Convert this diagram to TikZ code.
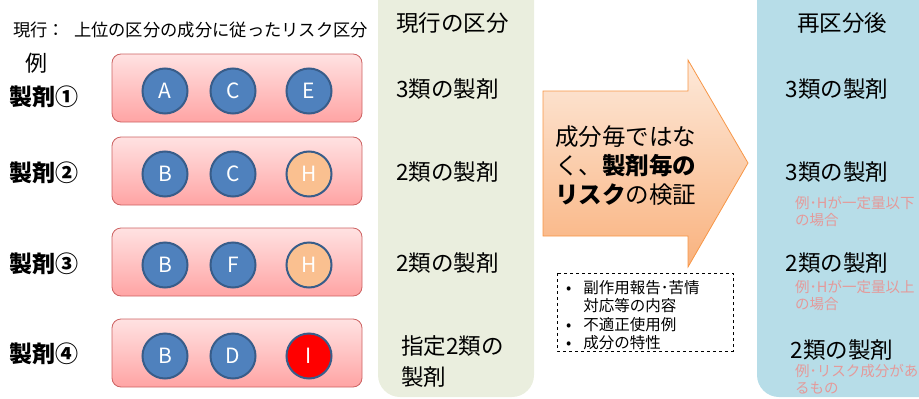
\documentclass[tikz,border=0pt]{standalone}
\usepackage{fontspec}
\setmainfont{Noto Sans CJK JP}
\usetikzlibrary{positioning}

\definecolor{pinktop}{HTML}{FFE2E2}
\definecolor{pinkbot}{HTML}{FFA4A4}
\definecolor{pinkline}{HTML}{CD6262}
\definecolor{compblue}{HTML}{4F81BD}
\definecolor{compline}{HTML}{385D8A}
\definecolor{comporange}{HTML}{FAC090}
\definecolor{greenpanel}{HTML}{EAEEDE}
\definecolor{bluepanel}{HTML}{B7DDE8}
\definecolor{arrowtop}{HTML}{FDE9DA}
\definecolor{arrowbot}{HTML}{F9B27E}
\definecolor{arrowline}{HTML}{F79646}
\definecolor{notered}{HTML}{E49A9A}

\begin{document}
\begin{tikzpicture}[x=1pt, y=-1pt,
  every node/.style={inner sep=0pt},
  drug/.style={draw=pinkline, line width=0.8pt, rounded corners=9pt,
    top color=pinktop, bottom color=pinkbot,
    minimum width=250pt, minimum height=68pt},
  comp/.style={circle, draw=compline, line width=2pt, fill=compblue,
    text=white, minimum size=45pt, font=\fontsize{21}{21}\selectfont},
  druglabel/.style={anchor=west, font=\fontsize{23}{26}\selectfont\bfseries},
  kind/.style={font=\fontsize{22.5}{31}\selectfont},
  note/.style={anchor=north west, align=left, text=notered,
    font=\fontsize{14.5}{17}\selectfont}
]
  \useasboundingbox (0,0) rectangle (919,399);
  \clip (0,0) rectangle (919,399);

  % panels
  \fill[greenpanel, rounded corners=22pt] (378,-40) rectangle (534,397);
  \fill[bluepanel, rounded corners=22pt] (757,-40) rectangle (960,397);

  % title
  \node[anchor=west, font=\fontsize{17.3}{20}\selectfont] (title) at (13,30)
    {現行：\hspace{9pt}上位の区分の成分に従ったリスク区分};
  \node[font=\fontsize{22}{24}\selectfont] (ex) at (36,63) {例};

  % products
  \node[druglabel] (lab1) at (9,97) {製剤①};
  \node[druglabel] (lab2) at (9,173) {製剤②};
  \node[druglabel] (lab3) at (9,264) {製剤③};
  \node[druglabel] (lab4) at (9,354) {製剤④};

  \node[drug] (box1) at (237,88) {};
  \node[drug] (box2) at (237,171) {};
  \node[drug] (box3) at (237,262) {};
  \node[drug] (box4) at (237,353) {};

  \node[comp] (a1) at (165,91) {A};
  \node[comp] (c1) at (233,91) {C};
  \node[comp] (e1) at (309,91) {E};

  \node[comp] (b2) at (165,174) {B};
  \node[comp] (c2) at (233,174) {C};
  \node[comp, fill=comporange] (h2) at (309,174) {H};

  \node[comp] (b3) at (165,265) {B};
  \node[comp] (f3) at (233,265) {F};
  \node[comp, fill=comporange] (h3) at (309,265) {H};

  \node[comp] (b4) at (165,356) {B};
  \node[comp] (d4) at (233,356) {D};
  \node[comp, fill=red] (i4) at (309,356) {I};

  % current class
  \node[kind, anchor=west] (cur) at (396,23) {現行の区分};
  \node[kind, anchor=west] (cur1) at (396,89) {3類の製剤};
  \node[kind, anchor=west] (cur2) at (396,172) {2類の製剤};
  \node[kind, anchor=west] (cur3) at (396,263) {2類の製剤};
  \node[kind, anchor=west, align=left] (cur4) at (401,362) {指定2類の\\製剤};

  % arrow
  \draw[draw=arrowline, line width=0.8pt, top color=arrowtop, bottom color=arrowbot]
    (543,91) -- (688,91) -- (688,60) -- (748,163) -- (688,267) -- (688,236)
    -- (543,236) -- cycle;
  \node[anchor=west, align=left, font=\fontsize{23.5}{29}\selectfont] (check) at (555,166)
    {成分毎ではな\\く、\textbf{製剤毎の}\\\textbf{リスク}の検証};

  % dashed box
  \draw[dashed, line width=0.8pt] (557,273) rectangle (733,351);
  \node[anchor=west, font=\fontsize{15.5}{18}\selectfont] (points) at (566,317)
    {\begin{tabular}{@{}l@{\hspace{12pt}}l@{}}
      •&副作用報告･苦情\\
      &対応等の内容\\
      •&不適正使用例\\
      •&成分の特性
    \end{tabular}};

  % new class
  \node[kind] (new) at (842,23) {再区分後};
  \node[kind] (new1) at (837,89) {3類の製剤};
  \node[kind] (new2) at (837,172) {3類の製剤};
  \node[note] (note2) at (795,196) {例･Hが一定量以下\\の場合};
  \node[kind] (new3) at (837,263) {2類の製剤};
  \node[note] (note3) at (795,280) {例･Hが一定量以上\\の場合};
  \node[kind] (new4) at (842,350) {2類の製剤};
  \node[note] (note4) at (795,364) {例･リスク成分があ\\るもの};
\end{tikzpicture}
\end{document}
